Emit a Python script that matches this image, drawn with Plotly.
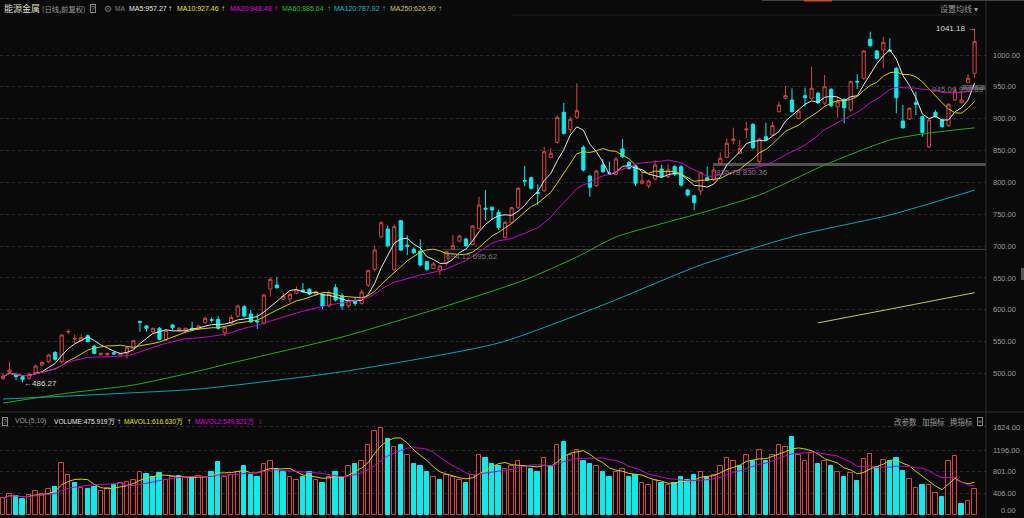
import plotly.graph_objects as go
import pandas as pd

# ---------------- data ----------------
opens = [492.4,501.8,497.6,495.0,492.4,501.2,513.3,518.5,533.2,518.5,
 565.0,553.9,551.0,559.3,543.1,529.5,529.5,532.6,529.0,531.6,
 539.6,581.5,574.6,565.6,570.9,552.6,576.0,567.2,567.2,571.0,
 569.4,579.7,584.5,585.0,564.0,578.8,590.0,604.9,593.4,582.0,
 578.8,632.6,638.9,616.5,617.0,625.9,631.0,632.1,624.3,624.3,
 606.0,634.7,622.0,606.0,614.0,610.0,639.0,663.6,714.7,726.8,
 663.6,739.9,701.5,695.0,692.3,675.5,665.0,662.5,672.9,695.4,
 707.9,711.1,702.8,727.9,759.5,761.0,753.0,713.8,736.7,760.3,
 803.0,807.3,784.4,787.0,839.4,862.9,910.0,883.3,902.2,855.0,
 810.0,794.8,827.3,815.0,812.7,852.4,831.5,825.7,798.6,794.3,
 805.3,821.0,809.0,824.6,824.6,788.1,779.0,786.5,807.3,803.8,
 830.0,839.4,866.0,845.7,882.3,891.2,832.5,871.7,874.4,911.0,
 932.0,929.4,900.6,936.1,932.0,939.9,924.2,946.1,918.8,930.4,
 913.7,958.6,963.4,1024.7,1006.3,1007.9,1007.9,979.1,896.4,899.5,
 925.1,903.1,856.0,910.0,898.0,889.0,929.4,925.1,957.1,971.3]
highs = [500.7,518.5,501.2,496.5,502.0,514.0,519.0,531.0,535.0,562.0,
 569.3,561.5,561.5,561.5,545.0,533.0,532.5,534.0,532.0,542.0,
 553.0,583.0,576.0,572.0,573.0,568.0,577.6,573.0,572.0,581.3,
 576.0,589.0,588.0,590.0,574.0,592.0,608.0,607.0,600.0,593.0,
 625.0,650.9,651.0,626.7,627.5,636.3,642.0,634.0,630.0,626.0,
 630.0,640.0,626.0,618.0,620.0,632.0,663.0,700.6,739.0,732.0,
 734.0,741.0,717.0,698.0,710.6,677.0,675.0,670.0,693.0,717.4,
 718.0,713.0,733.0,777.5,788.0,762.0,757.0,739.0,762.0,793.0,
 825.7,809.0,797.0,856.0,853.6,905.0,925.0,903.0,955.6,858.0,
 812.0,820.0,836.7,832.5,840.0,868.1,834.0,828.0,816.8,804.0,
 835.0,828.0,828.4,827.0,828.0,790.0,781.0,817.0,824.6,824.6,
 847.2,869.2,885.9,866.6,895.3,893.0,870.0,893.7,895.3,926.7,
 951.3,947.7,914.0,948.7,981.6,942.0,968.6,948.0,934.5,932.0,
 960.0,969.7,1008.0,1036.6,1008.0,1028.7,1026.2,981.0,921.5,918.0,
 942.4,905.0,900.0,913.7,900.0,924.0,948.7,943.5,969.7,1041.18]
lows = [489.8,500.7,489.8,486.27,490.0,499.0,512.0,516.0,520.0,516.0,
 562.0,548.3,550.0,549.0,530.0,528.0,528.0,529.0,528.0,523.8,
 538.0,565.6,566.0,564.0,552.0,551.0,568.4,566.0,563.0,567.0,
 568.0,579.0,580.0,569.0,558.6,577.0,588.0,588.0,579.0,570.0,
 577.0,620.5,633.0,615.4,611.6,624.3,627.0,623.0,622.0,601.0,
 604.0,613.0,600.0,603.0,606.0,608.0,636.0,660.0,712.0,698.0,
 660.0,692.0,686.0,687.0,668.0,661.0,664.0,654.6,670.0,694.0,
 706.0,699.0,701.0,726.0,741.0,741.0,725.0,712.0,735.0,758.0,
 794.0,789.0,764.5,785.0,838.0,861.0,875.0,878.0,900.0,817.0,
 777.5,793.0,815.0,811.6,811.0,838.0,820.0,794.3,797.0,790.7,
 803.0,807.0,807.0,810.0,793.0,778.0,756.7,780.2,802.0,802.0,
 828.0,838.0,859.8,844.0,869.2,852.0,830.0,865.0,873.0,910.0,
 930.0,910.0,899.0,918.9,930.0,923.0,922.0,918.0,901.6,892.8,
 911.0,946.6,961.0,1013.0,993.0,979.1,1005.0,908.5,884.0,898.0,
 905.8,871.7,854.0,902.0,886.0,887.0,928.0,924.0,956.0,964.4]
closes = [495.0,505.5,495.0,490.9,498.7,511.7,517.5,529.0,522.2,560.4,
 566.0,555.0,556.2,550.0,531.6,531.6,531.6,530.6,531.6,540.5,
 551.4,580.5,571.0,570.9,553.7,567.2,571.9,571.0,571.0,568.3,
 574.6,586.6,583.5,570.9,572.5,588.0,605.9,590.2,581.3,581.0,
 623.2,647.8,634.7,621.6,624.3,631.1,628.4,624.8,628.4,606.0,
 626.0,615.4,606.0,615.0,610.0,628.0,661.4,693.9,736.7,700.6,
 730.5,693.9,700.0,689.6,670.3,663.6,671.9,668.7,691.2,700.6,
 715.8,700.6,731.5,764.5,758.0,756.7,728.9,737.3,760.3,790.7,
 802.0,790.7,783.0,848.2,845.7,902.2,877.0,899.0,912.6,819.5,
 792.3,817.9,816.8,814.3,836.7,840.4,822.0,798.6,802.2,802.2,
 827.3,809.0,819.5,812.7,795.9,780.2,768.1,815.2,803.8,819.5,
 837.8,861.4,868.1,853.5,883.8,854.5,868.1,866.6,889.0,921.5,
 936.1,911.0,912.0,933.0,947.7,925.1,950.2,920.4,926.7,917.3,
 958.1,957.6,1006.3,1014.6,994.8,1019.9,1006.3,933.0,885.9,916.3,
 922.6,878.6,898.0,903.1,887.5,922.6,943.5,929.4,963.4,1020.9]
volumes = [320,400,350,300,380,450,400,480,520,
 960,740,600,500,480,520,450,500,550,600,620,650,
 800,760,700,780,650,700,720,680,700,720,
 700,800,980,700,750,800,900,750,700,
 950,1000,850,800,700,650,700,800,650,600,700,
 800,700,900,950,1000,1300,1550,1600,1400,1250,1300,1100,950,900,800,
 700,650,750,700,650,600,750,
 1100,1050,950,900,850,900,1000,900,850,800,
 1050,900,1300,1350,1100,1200,1000,950,900,800,700,800,850,700,750,
 600,550,650,600,550,600,700,650,750,
 800,700,750,900,1050,1000,
 900,1100,1000,1200,1000,1100,1300,1250,
 1440,1100,1000,1150,950,1000,900,800,700,
 772,637,1035,1127,882,1017,998,1059,820,662,497,558,558,417,332,998,1095,204,270,476]

# long moving averages (index, value)
ma60_idx = [0,10,20,30,35,52,66,80,88,94,102,106,116,126,136,142,149]
ma60_val = [453.6,469.3,481.9,503.9,516.4,557.3,599.7,646.8,682.9,714.3,738.0,749.0,780.2,827.3,866.6,877.5,885.64]
ma120_idx = [0,10,20,30,52,76,92,107,122,136,149]
ma120_val = [459.9,464.6,469.8,475.6,502.8,547.8,607.5,670.3,717.4,748.8,787.92]
ma250_idx = [125,137,149]
ma250_val = [579.5,603.0,626.9]

# price gaps: start index, low, high
gap_start = [67.5, 108.9, 147.0]
gap_low = [694.12, 825.78, 945.09]
gap_high = [695.62, 830.36, 952.89]

price_ticks = [500,550,600,650,700,750,800,850,900,950,1000]
vol_ticks = [406,801,1196,1624]

# ---------------- styling ----------------
BG = '#0a0a0a'
RED = '#d9443f'
CYAN = '#00f0f0'
C_MA5 = '#e6e6e6'
C_MA10 = '#d2d200'
C_MA20 = '#d000d0'
C_MA60 = '#1cb01c'
C_MA120 = '#00a8b8'
C_MA250 = '#c8c864'
GRAY = '#9a9a9a'

n = len(closes)
idx = list(range(n))
cs = pd.Series(closes)
ma5 = cs.rolling(5, min_periods=1).mean()
ma10 = cs.rolling(10, min_periods=1).mean()
ma20 = cs.rolling(20, min_periods=1).mean()
vs = pd.Series(volumes, dtype=float)
mavol1 = vs.rolling(5, min_periods=1).mean()
mavol2 = vs.rolling(10, min_periods=1).mean()

W, H = 1024, 518
L, R, T, B = 0, 38, 20, 0
PW = W - L - R
PH = H - T - B


def px(x):
    return (x - L) / PW


def py(y):
    return (H - B - y) / PH

price_top, price_bot = 20, 410
p_hi = 1000 + (55 - price_top) / 0.637
p_lo = 1000 - (price_bot - 55) / 0.637
vol_top = 425
v_hi = (515.4 - vol_top) / 0.0545
v_lo = -(H - B - 515.4) / 0.0545

fig = go.Figure()

fig.add_trace(go.Candlestick(
    x=idx, open=opens, high=highs, low=lows, close=closes,
    increasing=dict(line=dict(color=RED, width=1), fillcolor='rgba(0,0,0,0)'),
    decreasing=dict(line=dict(color=CYAN, width=1), fillcolor=CYAN),
    whiskerwidth=0, xaxis='x', yaxis='y', hoverinfo='skip', showlegend=False))

for ys, col in [(ma5, C_MA5), (ma10, C_MA10), (ma20, C_MA20)]:
    fig.add_trace(go.Scatter(x=idx, y=ys, mode='lines', line=dict(color=col, width=1),
                             xaxis='x', yaxis='y', hoverinfo='skip', showlegend=False))
for xs, ys, col in [(ma60_idx, ma60_val, C_MA60), (ma120_idx, ma120_val, C_MA120),
                    (ma250_idx, ma250_val, C_MA250)]:
    fig.add_trace(go.Scatter(x=xs, y=ys, mode='lines', line=dict(color=col, width=1, shape='spline', smoothing=0.6),
                             xaxis='x', yaxis='y', hoverinfo='skip', showlegend=False))

# volume bars: colour by close vs previous close
up = [True] + [closes[i] >= closes[i - 1] for i in range(1, n)]
fig.add_trace(go.Bar(
    x=idx, y=volumes, width=0.68,
    marker=dict(color=['rgba(0,0,0,0)' if u else CYAN for u in up],
                line=dict(color=[RED if u else CYAN for u in up], width=1)),
    xaxis='x2', yaxis='y2', hoverinfo='skip', showlegend=False))
fig.add_trace(go.Scatter(x=idx, y=mavol1, mode='lines', line=dict(color=C_MA10, width=1),
                         xaxis='x2', yaxis='y2', hoverinfo='skip', showlegend=False))
fig.add_trace(go.Scatter(x=idx, y=mavol2, mode='lines', line=dict(color=C_MA20, width=1),
                         xaxis='x2', yaxis='y2', hoverinfo='skip', showlegend=False))

xr = [-0.46, 150.75]
shapes = []
for s, lo, hi in zip(gap_start, gap_low, gap_high):
    shapes.append(dict(type='rect', xref='x', yref='y', x0=s, x1=xr[1], y0=lo, y1=hi,
                       fillcolor='#505050', line=dict(width=0), layer='below'))
# frame lines
shapes += [
    dict(type='line', xref='paper', yref='paper', x0=1, x1=1, y0=0, y1=py(0), line=dict(color='#2e2e2e', width=1)),
    dict(type='line', xref='paper', yref='paper', x0=0, x1=px(W), y0=py(412), y1=py(412), line=dict(color='#2e2e2e', width=1)),
    dict(type='line', xref='paper', yref='paper', x0=px(512), x1=px(980), y0=py(15), y1=py(15), line=dict(color='#1e1e1e', width=1)),
    dict(type='line', xref='paper', yref='paper', x0=px(762), x1=px(W), y0=py(0.5), y1=py(0.5), line=dict(color='#444', width=1)),
    dict(type='line', xref='paper', yref='paper', x0=px(804), x1=px(832), y0=py(0.5), y1=py(0.5), line=dict(color='#c8501e', width=2)),
    dict(type='rect', xref='paper', yref='paper', x0=px(1021), x1=px(1024), y0=py(280), y1=py(268), fillcolor='#555', line=dict(width=0)),
]

ann = []
FONT = 'Liberation Sans'
CJK = 'Noto Sans CJK SC'


def txt(x, y, s, color, size=8, family=FONT, anchor='left', **kw):
    ann.append(dict(x=px(x), y=py(y), xref='paper', yref='paper', text=s, showarrow=False,
                    xanchor=anchor, yanchor='middle', font=dict(color=color, size=size, family=family), **kw))

# header row
txt(2, 9, '能源金属', '#dcdcc8', 9, CJK)
txt(40, 9, '(日线,前复权)', GRAY, 7.3, CJK)
txt(90, 9, '?', GRAY, 7, FONT, bordercolor='#888', borderwidth=1, borderpad=0)
txt(102, 9, '⚙', '#777', 9, 'DejaVu Sans')
txt(113, 9, 'MA', '#888', 6.5)
hdr = [(127, 'MA5:957.27', C_MA5, 166), (175, 'MA10:927.46', '#e6e600', 219),
       (228, 'MA20:948.48', '#e000e0', 272), (280, 'MA60:885.64', '#20c020', 325),
       (332, 'MA120:787.92', '#00c0d0', 380), (388, 'MA250:626.90', C_MA250, 436)]
for x0, s, c, xa in hdr:
    txt(x0, 9, s, c, 7)
    txt(xa, 9, '↑', c, 8)
txt(980, 9, '设置均线 ▾', GRAY, 8, CJK, anchor='right')

# volume header
txt(2, 421, '?', GRAY, 7, FONT, bordercolor='#888', borderwidth=1, borderpad=0)
txt(13, 421, 'VOL(5,10)', GRAY, 6.8)
txt(52, 421, 'VOLUME:475.919万', '#e6e6e6', 6.6)
txt(115, 421, '↑', '#e6e6e6', 8)
txt(122, 421, 'MAVOL1:616.630万', '#e6e600', 6.6)
txt(185, 421, '↑', '#e6e600', 8)
txt(193, 421, 'MAVOL2:549.821万', '#e000e0', 6.6)
txt(256, 421, '↓', '#e000e0', 8)
txt(892, 421, '改参数', GRAY, 7.5, CJK)
txt(920, 421, '加指标', GRAY, 7.5, CJK)
txt(948, 421, '换指标', GRAY, 7.5, CJK)
txt(977, 421, '×', GRAY, 7, FONT, bordercolor='#888', borderwidth=1, borderpad=0)
txt(1018, 510, '0.00', GRAY, 7.5, FONT, anchor='right')

# chart annotations
ann.append(dict(x=n - 1, y=highs[-1], xref='x', yref='y', text=f'{highs[-1]:.2f} →', showarrow=False,
                xanchor='right', yanchor='middle', xshift=2, font=dict(color='#dcdcdc', size=8, family=FONT)))
lo_i = lows.index(min(lows))
ann.append(dict(x=lo_i, y=lows[lo_i], xref='x', yref='y', text=f'←{lows[lo_i]:.2f}', showarrow=False,
                xanchor='left', yanchor='middle', xshift=-1, yshift=-1, font=dict(color='#dcdcdc', size=8, family=FONT)))
for s, lo, hi, k in zip(gap_start, gap_low, gap_high, range(3)):
    if k < 2:
        ann.append(dict(x=s, y=lo, xref='x', yref='y', text=f'{lo:.2f} {hi:.2f}', showarrow=False,
                        xanchor='left', yanchor='top', xshift=1, font=dict(color='#7a7a7a', size=8, family=FONT)))
    else:
        ann.append(dict(x=1, y=lo, xref='paper', yref='y', text=f'{lo:.2f} {hi:.2f}', showarrow=False,
                        xanchor='right', yanchor='middle', font=dict(color='#7a7a7a', size=8, family=FONT)))

fig.update_layout(
    width=W, height=H, margin=dict(l=L, r=R, t=T, b=B, autoexpand=False),
    paper_bgcolor=BG, plot_bgcolor=BG, showlegend=False, bargap=0,
    xaxis=dict(domain=[0, 1], range=xr, visible=False, rangeslider=dict(visible=False), anchor='y'),
    xaxis2=dict(domain=[0, 1], range=xr, visible=False, matches='x', anchor='y2'),
    yaxis=dict(domain=[py(price_bot), 1], range=[p_lo, p_hi], side='right', anchor='x',
               tickvals=price_ticks, ticktext=[f'{v:.2f}' for v in price_ticks],
               tickfont=dict(color=GRAY, size=7.5, family=FONT), ticks='', ticklabelstandoff=6,
               showgrid=True, gridcolor='#2c2c2c', griddash='dot', gridwidth=1,
               zeroline=False, showline=False, automargin=False),
    yaxis2=dict(domain=[0, py(vol_top)], range=[v_lo, v_hi], side='right', anchor='x2',
                tickvals=vol_ticks, ticktext=[f'{v:.2f}' for v in vol_ticks],
                tickfont=dict(color=GRAY, size=7.5, family=FONT), ticks='', ticklabelstandoff=6,
                showgrid=True, gridcolor='#2c2c2c', griddash='dot', gridwidth=1,
                zeroline=False, showline=False, automargin=False),
    shapes=shapes, annotations=ann,
)

fig.write_html('out.html', config={'displayModeBar': False},
               post_script="document.body.style.margin='0';document.body.style.background='#0a0a0a';")
